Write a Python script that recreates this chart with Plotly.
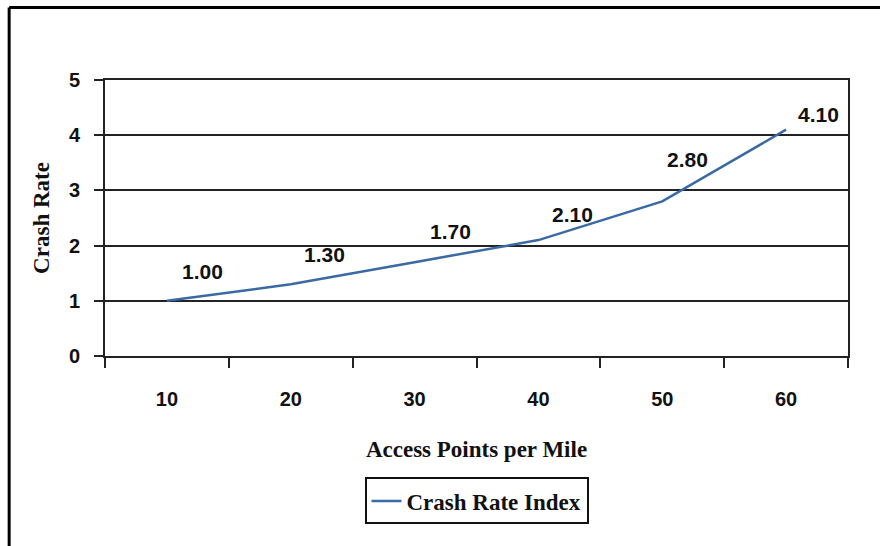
import plotly.graph_objects as go

categories = ["10", "20", "30", "40", "50", "60"]
crash_rate = [1.00, 1.30, 1.70, 2.10, 2.80, 4.10]
value_labels = ["1.00", "1.30", "1.70", "2.10", "2.80", "4.10"]
y_ticks = [0, 1, 2, 3, 4, 5]

# label offsets (px) relative to each point
label_dx = [36, 34, 36, 34, 25, 32]
label_dy = [29, 30, 31, 26, 42, 15]

SANS = "Liberation Sans, Arial, sans-serif"
SERIF = "Liberation Serif, Times New Roman, serif"

fig = go.Figure()
fig.add_trace(go.Scatter(
    x=categories, y=crash_rate, mode="lines", name="Crash Rate Index",
    line=dict(color="#3a6aa3", width=2.5), hoverinfo="skip",
))

for i, (v, t, dx, dy) in enumerate(zip(crash_rate, value_labels, label_dx, label_dy)):
    fig.add_annotation(x=i, y=v, xref="x", yref="y", text=t, showarrow=False,
                       xshift=dx, yshift=dy,
                       font=dict(family=SANS, size=21, color="#111", weight="bold"))

fig.update_layout(
    width=880, height=546,
    margin=dict(l=105, r=32, t=80, b=189.5),
    paper_bgcolor="white", plot_bgcolor="white",
    showlegend=True,
    legend=dict(x=0.5, xanchor="center", y=-0.44, yanchor="top",
                bordercolor="#111", borderwidth=2, bgcolor="white",
                font=dict(family=SERIF, size=23, color="#111", weight="bold"),
                itemwidth=30),
    xaxis=dict(
        type="category", range=[-0.5, 5.5], tickson="boundaries",
        ticks="outside", ticklen=10, tickwidth=2, tickcolor="#222",
        showline=True, linecolor="#222", linewidth=2, mirror=True,
        showgrid=False, ticklabelstandoff=24,
        tickfont=dict(family=SANS, size=20, color="#111", weight="bold"),
        title=dict(text="Access Points per Mile", standoff=32,
                   font=dict(family=SERIF, size=23, color="#111", weight="bold")),
        layer="above traces",
    ),
    yaxis=dict(
        range=[0, 5], tickvals=y_ticks, ticks="outside", ticklen=9, tickwidth=2,
        tickcolor="#222", showline=True, linecolor="#222", linewidth=2, mirror=True,
        showgrid=True, gridcolor="#222", gridwidth=2, zeroline=False,
        ticklabelstandoff=10,
        tickfont=dict(family=SANS, size=20, color="#111", weight="bold"),
        title=dict(text="Crash Rate", standoff=13,
                   font=dict(family=SERIF, size=23, color="#111", weight="bold")),
        layer="above traces",
    ),
    shapes=[
        dict(type="line", xref="paper", yref="paper", x0=-0.129, x1=1.05, y0=1.263, y1=1.263,
             line=dict(color="black", width=3)),
        dict(type="line", xref="paper", yref="paper", x0=-0.129, x1=-0.129, y0=1.263, y1=-0.7,
             line=dict(color="black", width=3)),
    ],
)

fig.write_html("out.html")
